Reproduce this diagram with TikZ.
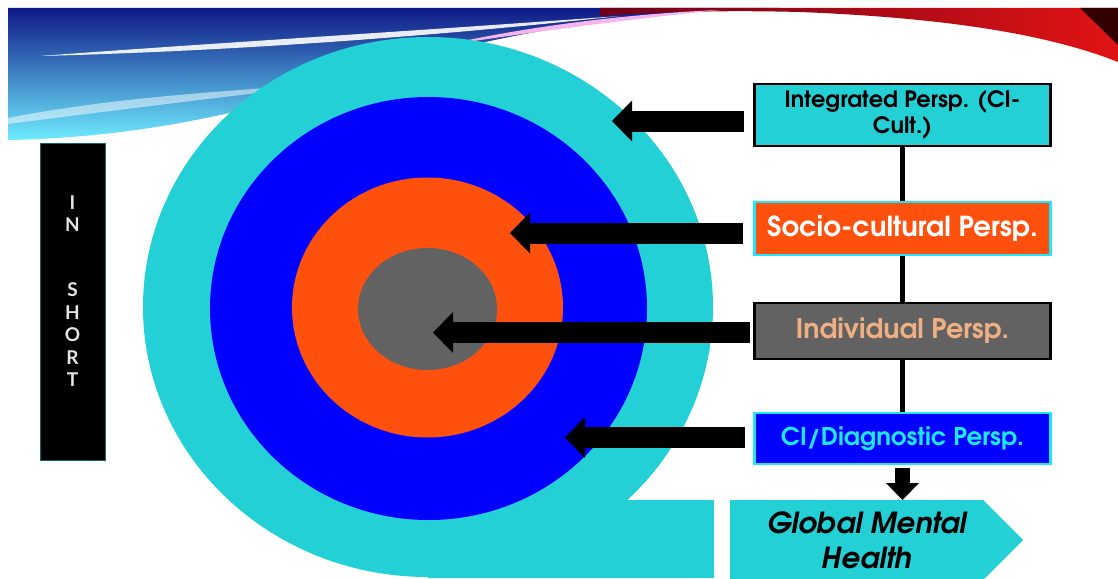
\documentclass[tikz,border=0pt]{standalone}
\usepackage{fontspec}
\newfontfamily\adv{texgyreadventor}[Extension=.otf, UprightFont=*-regular, BoldFont=*-bold, ItalicFont=*-italic, BoldItalicFont=*-bolditalic]
\newfontfamily\lat{Lato}
\usetikzlibrary{arrows.meta,calc}
\definecolor{cy}{RGB}{34,208,214}
\definecolor{bl}{RGB}{0,0,255}
\definecolor{orn}{RGB}{255,80,14}
\definecolor{gr}{RGB}{98,98,98}
\definecolor{tanc}{RGB}{240,175,130}
\definecolor{lcy}{RGB}{30,230,255}
\definecolor{navy}{RGB}{15,25,135}
\definecolor{mblue}{RGB}{30,110,230}
\definecolor{pcyan}{RGB}{110,235,255}
\definecolor{dred}{RGB}{110,0,25}
\definecolor{rred}{RGB}{225,20,20}
\definecolor{pinkc}{RGB}{245,180,235}
\tikzset{
  box/.style={minimum width=296pt, inner sep=0pt, align=center, line width=2.2pt},
  arr/.style={line width=21pt, -{Triangle[length=20pt, width=41pt, line width=0pt]}},
  vline/.style={line width=5pt},
}
\begin{document}
\begin{tikzpicture}[x=1pt,y=-1pt]
\useasboundingbox (0,0) rectangle (1118,578);
\fill[white] (0,0) rectangle (1118,578);
% banner left
\shade[top color=navy, middle color=mblue, bottom color=pcyan]
  (8,8) -- (780,8) .. controls (620,12) and (480,35) .. (330,85)
  .. controls (230,118) and (120,138) .. (8,140) -- cycle;
\fill[white, opacity=0.9] (40,56) .. controls (200,44) and (400,32) .. (620,16)
  .. controls (400,40) and (200,52) .. (40,56) -- cycle;
\fill[white, opacity=0.5] (8,118) .. controls (100,100) and (200,92) .. (330,84)
  .. controls (200,100) and (100,112) .. (8,124) -- cycle;
% banner right
\shade[left color=dred, right color=rred]
  (600,8) -- (1118,8) -- (1118,62) .. controls (1050,35) and (950,18) .. (800,12)
  .. controls (720,10) and (660,12) .. (600,16) -- cycle;
\fill[pinkc] (440,46) .. controls (520,28) and (620,14) .. (720,10)
  .. controls (620,20) and (520,34) .. (440,46) -- cycle;
\fill[black!80!red] (1080,8) -- (1118,8) -- (1118,45) -- cycle;
% target
\fill[cy] (428,307) ellipse [x radius=285pt, y radius=270pt];
\fill[cy] (428,500) rectangle (714,578);
\fill[bl] (428.5,308.5) ellipse [x radius=218.5pt, y radius=211.5pt];
\fill[orn] (427.5,307.5) ellipse [x radius=135.5pt, y radius=130pt];
\fill[gr] (427.5,309) ellipse [x radius=69.5pt, y radius=61pt];
% in short
\node[fill=black, draw=cy!50!black, line width=0.8pt, minimum width=65pt, minimum height=317pt, inner sep=0pt] (ins) at (72.5,301.5) {};
\node[text=white!90!black, font=\lat\bfseries\fontsize{19}{22.6}\selectfont, align=center, anchor=north] (inst) at (72.5,192) {I\\N\\[42pt]S\\H\\O\\R\\T};
% boxes
\node[box, fill=cy, draw=black, minimum height=62pt, font=\adv\bfseries\fontsize{22.5}{26}\selectfont] (int) at (902.5,115) {Integrated Persp. (CI-\\Cult.)};
\node[box, fill=orn, draw=lcy, minimum height=53pt, text=white, font=\adv\bfseries\fontsize{27.5}{30}\selectfont] (soc) at (902.5,228.5) {Socio-cultural Persp.};
\node[box, fill=gr, draw=black, minimum height=56pt, text=tanc, font=\adv\bfseries\fontsize{27}{30}\selectfont] (ind) at (902.5,331) {Individual Persp.};
\node[box, fill=bl, draw=lcy, minimum height=51pt, text=lcy, font=\adv\bfseries\fontsize{24.5}{28}\selectfont] (ci) at (902.5,438.5) {CI/Diagnostic Persp.};
\draw[vline] (int.south) -- (soc.north);
\draw[vline] (soc.south) -- (ind.north);
\draw[vline] (ind.south) -- (ci.north);
% arrows
\coordinate (t1) at (612,121);
\coordinate (t2) at (510,233);
\coordinate (t3) at (433,332.5);
\coordinate (t4) at (565,437.5);
\draw[arr, shorten <=9pt] (int.west |- t1) -- (t1);
\draw[arr, shorten <=10pt] (soc.west |- t2) -- (t2);
\draw[arr, shorten <=3pt] (ind.west |- t3) -- (t3);
\draw[arr, shorten <=8pt] (ci.west |- t4) -- (t4);
% global mental health
\fill[cy] (730,500) -- (983,500) -- (1023,540) -- (983,580) -- (730,580) -- cycle;
\coordinate (gtop) at (902.5,500);
\draw[line width=15pt, -{Triangle[length=17pt, width=33pt, line width=0pt]}, shorten <=3pt] (ci.south) -- (gtop);
\node[font=\adv\bfseries\itshape\fontsize{29}{35}\selectfont, align=center] (gmh) at (867,540) {Global Mental\\Health};
\end{tikzpicture}
\end{document}
